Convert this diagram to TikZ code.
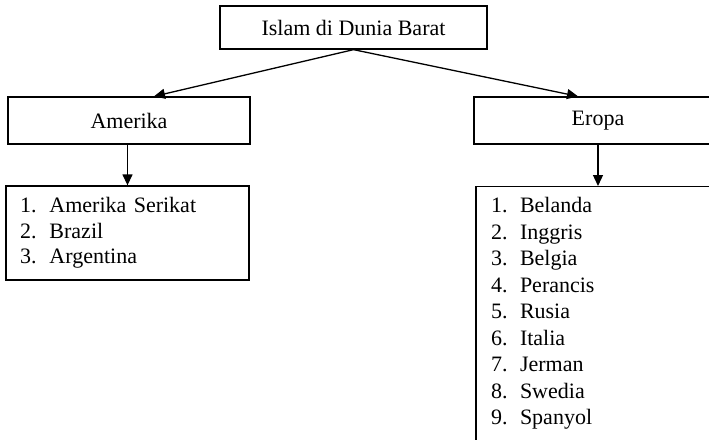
\documentclass[tikz,border=0pt]{standalone}
\usepackage{fontspec}
\setmainfont{Liberation Serif}
\usetikzlibrary{arrows.meta}
\begin{document}
\begin{tikzpicture}[x=1pt,y=-1pt,line width=1.3pt,>={Triangle[length=11pt,width=10pt]},
 every node/.style={font=\fontsize{22}{26}\selectfont},
 box/.style={draw,inner sep=0pt}]
 \useasboundingbox (0,0) rectangle (709,439);
 \clip (0,0) rectangle (709,439);
 \node[box,minimum width=267pt,minimum height=43pt] (barat) at (353.5,27.5) {Islam di Dunia Barat};
 \node[box,minimum width=242pt,minimum height=47pt] (amerika) at (129,120.5) {Amerika};
 \node[box,minimum width=248pt,minimum height=47pt] (eropa) at (598,120.5) {Eropa};
 \node[box,minimum width=243pt,minimum height=94pt,text width=215pt,inner xsep=14pt,align=left,
  font=\fontsize{22}{25.5}\selectfont] (amerikalist) at (127.5,233)
  {\makebox[29.5pt][l]{1.}Amerika Serikat\\
   \makebox[29.5pt][l]{2.}Brazil\\
   \makebox[29.5pt][l]{3.}Argentina};
 \node[box,minimum width=248pt,minimum height=300pt,anchor=north] (eropalist) at (600,186) {};
 \node[inner sep=0pt,anchor=north west,align=left,font=\fontsize{22}{26.5}\selectfont] (eropaitems)
  at ([xshift=15pt,yshift=-11pt]eropalist.north west)
  {\makebox[29pt][l]{1.}Belanda\\
   \makebox[29pt][l]{2.}Inggris\\
   \makebox[29pt][l]{3.}Belgia\\
   \makebox[29pt][l]{4.}Perancis\\
   \makebox[29pt][l]{5.}Rusia\\
   \makebox[29pt][l]{6.}Italia\\
   \makebox[29pt][l]{7.}Jerman\\
   \makebox[29pt][l]{8.}Swedia\\
   \makebox[29pt][l]{9.}Spanyol};

 \draw [->] (barat.south) -- ([xshift=25pt]amerika.north);
 \draw [->] (barat.south) -- ([xshift=-20pt]eropa.north);
 \draw [->] (amerikalist.north |- amerika.south) -- (amerikalist.north);
 \draw [->] (eropa.south) -- (eropa.south |- eropalist.north);
\end{tikzpicture}
\end{document}
